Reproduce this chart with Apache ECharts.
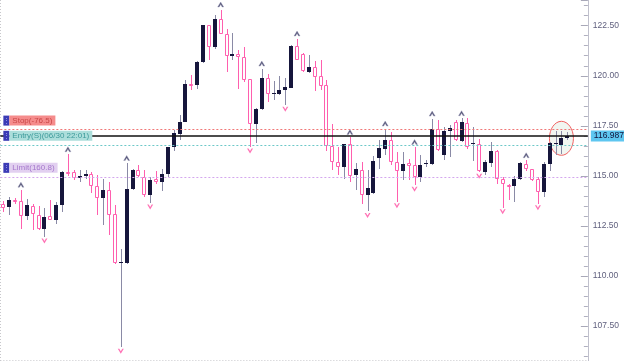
<!DOCTYPE html>
<html>
<head>
<meta charset="utf-8">
<script src="https://cdn.jsdelivr.net/npm/echarts@6/dist/echarts.min.js"></script>
<style>html,body{margin:0;padding:0;background:#fff}#c{width:624px;height:361px}</style>
</head>
<body>
<div id="c"></div>
<script>
// ---- data ----
var opens  = [113.58,113.44,113.78,113.74,113.01,113.51,113.06,112.34,112.98,112.78,
              113.54,115.18,115.19,114.91,114.98,115.11,114.51,113.91,114.31,113.08,
              110.68,110.64,114.34,115.31,114.94,114.03,114.86,114.69,115.11,116.44,
              117.11,117.69,119.61,119.53,120.69,122.53,121.44,122.83,122.11,120.98,
              121.11,120.94,119.83,117.61,118.34,119.89,119.09,119.11,119.31,119.41,
              121.48,121.08,120.18,120.45,119.98,119.53,116.48,115.69,115.44,116.58,
              115.03,115.31,114.03,114.14,115.91,116.33,116.81,115.69,115.24,115.64,
              115.53,114.94,115.58,115.58,117.36,116.03,117.24,117.68,116.73,117.63,
              116.59,116.61,115.19,115.64,116.24,114.83,114.54,114.48,114.83,115.61,
              115.33,114.83,114.19,115.61,116.63,116.53,116.90];
var closes = [113.39,113.81,113.68,113.01,113.53,113.08,112.34,112.94,112.81,113.56,
              115.19,115.08,114.91,114.98,115.11,114.48,113.91,114.31,113.03,110.64,
              110.71,114.33,115.28,114.98,114.03,114.81,114.69,115.11,116.44,117.14,
              117.69,119.61,119.51,120.69,122.53,121.44,122.83,122.11,120.98,121.11,
              120.96,119.81,117.61,118.36,119.89,119.11,119.13,119.31,119.44,121.48,
              120.81,120.23,120.44,119.95,119.50,116.48,115.68,115.44,116.58,114.98,
              115.33,114.06,114.41,115.74,116.41,116.81,115.68,115.23,115.61,115.51,
              114.94,115.56,115.64,117.36,116.28,117.24,117.38,116.78,117.69,116.44,
              116.63,115.24,115.69,116.24,114.86,114.58,114.51,114.86,115.64,115.33,
              114.78,114.19,115.61,116.64,116.66,116.89,116.987];
var lows   = [113.19,113.03,113.61,112.36,112.78,112.28,112.31,111.94,112.78,112.61,
              113.19,114.98,114.81,114.69,114.86,114.14,113.03,112.53,112.06,110.61,
              106.44,110.61,114.28,114.94,113.94,113.64,114.61,114.24,114.94,116.24,
              116.81,117.69,119.28,119.36,120.64,120.78,121.36,122.11,120.19,120.78,
              119.33,119.69,116.44,116.64,118.31,118.69,118.78,119.06,118.53,119.38,
              120.78,120.18,120.13,119.24,119.28,116.23,115.28,115.03,114.86,114.69,
              114.28,113.61,113.22,114.08,115.36,116.03,115.53,113.71,114.78,114.78,
              114.53,114.69,115.43,115.53,116.23,115.81,115.94,116.73,116.69,116.36,
              115.75,115.18,115.03,115.44,114.61,113.41,113.81,113.69,114.78,115.24,
              114.74,113.61,113.94,115.23,116.03,116.11,116.78];
var highs  = [113.73,113.94,113.91,114.31,113.86,113.61,113.49,113.41,113.78,113.69,
              115.23,116.08,115.31,115.28,115.31,115.19,115.03,114.86,114.69,113.53,
              111.36,115.64,115.36,115.53,115.28,114.94,115.24,115.36,116.46,117.28,
              118.03,119.78,120.03,120.73,122.56,122.55,123.03,123.31,122.36,122.16,
              121.28,121.44,119.83,118.41,120.36,120.11,119.73,119.98,119.91,121.53,
              121.86,121.13,121.03,120.73,120.78,119.78,117.61,116.45,116.61,116.94,
              115.66,115.68,115.28,116.01,116.78,117.36,117.19,116.19,116.19,115.86,
              116.44,116.03,115.78,117.86,117.78,117.44,117.53,117.78,117.88,117.88,
              117.43,116.86,115.78,116.69,116.28,114.94,114.61,114.98,115.69,115.78,
              115.36,114.94,115.69,116.69,117.23,117.24,117.19];
var upMarks   = [3, 11, 21, 37, 44, 50, 59, 65, 70, 73, 78, 89];
var downMarks = [7, 20, 25, 42, 48, 62, 67, 70, 81, 85, 91];
var yTicks = {min: 105, max: 123.785, interval: 2.5};
var levels = {stop: 117.315, entry: 116.55, limit: 114.95, last: 116.987, floor: 105.8};
var labels = {stop: 'Stop(-76.5)', entry: 'Entry(S)(06/30 22:01)', limit: 'Limit(160.8)'};
var padCount = 3;
var categories = opens.map(function(_, i){ return 'c' + i; });
for (var k = 0; k < padCount; k++) categories.push('');

// ---- styles ----
var NAVY = '#16163c', PINK = '#ff5fae', WICK = '#8a8aa6';
var FONT = 'Liberation Sans';

var candleData = opens.map(function(o, i){ return [i, o, closes[i], lows[i], highs[i]]; });

function tag(bg, fg) {
  return {
    i: {backgroundColor: '#3b3bb5', width: 6, height: 10, color: '#a8a8f0', fontSize: 7, align: 'center', lineHeight: 10},
    t: {backgroundColor: bg, color: fg, fontSize: 8, fontFamily: FONT, height: 10, lineHeight: 10, padding: [0, 3, 0, 3]}
  };
}

var chart = echarts.init(document.getElementById('c'), null, {renderer: 'canvas'});
var option = {
  animation: false,
  grid: {left: 0.36, right: 36.14, top: 0, bottom: -15, outerBoundsMode: 'none', containLabel: false},
  xAxis: {
    type: 'category', data: categories, boundaryGap: true,
    axisLine: {show: false}, axisTick: {show: false}, axisLabel: {show: false},
    splitLine: {show: true, interval: function(idx){ return idx === 1; },
      lineStyle: {color: '#c8c8cc', type: [1, 2], width: 1}}
  },
  yAxis: {
    type: 'value', position: 'right', scale: true,
    min: yTicks.min, max: yTicks.max, interval: yTicks.interval,
    axisLine: {show: true, lineStyle: {color: '#c0c0cc'}},
    axisTick: {show: true, inside: true, length: 7, lineStyle: {color: '#a8a8b8'}},
    minorTick: {show: true, splitNumber: 5, length: 4, lineStyle: {color: '#b0b0c0'}},
    splitLine: {show: false},
    axisLabel: {color: '#60607e', fontSize: 8.5, fontFamily: FONT, margin: 5,
      showMaxLabel: false, showMinLabel: false,
      formatter: function(v){ return v.toFixed(2); }}
  },
  series: [
    {
      type: 'custom', name: 'price',
      encode: {x: 0, y: [1, 2, 3, 4]},
      data: candleData,
      renderItem: function(params, api){
        var i = api.value(0), o = api.value(1), c = api.value(2), l = api.value(3), h = api.value(4);
        var up = c >= o;
        var pO = api.coord([i, o]), pC = api.coord([i, c]), pL = api.coord([i, l]), pH = api.coord([i, h]);
        var cx = Math.round(pO[0]) + 0.5;
        var top = Math.round(Math.min(pO[1], pC[1])), bot = Math.round(Math.max(pO[1], pC[1]));
        var ch = [{type: 'line', shape: {x1: cx, y1: Math.round(pH[1]), x2: cx, y2: Math.round(pL[1])},
                   style: {stroke: up ? WICK : PINK, lineWidth: 1}}];
        if (up) {
          ch.push({type: 'rect', shape: {x: cx - 2.5, y: top, width: 4, height: Math.max(1, bot - top)},
                   style: {fill: NAVY}});
        } else {
          ch.push({type: 'rect', shape: {x: cx - 2, y: top + 0.5, width: 3, height: Math.max(1, bot - top - 1)},
                   style: {fill: '#fff', stroke: PINK, lineWidth: 1}});
        }
        return {type: 'group', children: ch};
      }
    },
    {
      type: 'scatter', name: 'fractalUp', silent: true,
      data: upMarks.map(function(i){ return [i, highs[i]]; }),
      symbol: 'path://M0,10 L5,0 L10,10 L7.5,10 L5,5 L2.5,10 Z',
      symbolSize: [6, 5], symbolOffset: [0, -5],
      itemStyle: {color: '#2a2a55', borderColor: '#9a9ab8', borderWidth: 0.5},
      markLine: {
        silent: true, symbol: ['none', 'none'],
        data: [
          {yAxis: levels.stop, lineStyle: {color: '#f07878', type: [2, 2], width: 1},
           label: {show: true, position: 'insideStartTop', distance: [3, 4], formatter: '{i|⋮}{t|' + labels.stop + '}', rich: tag('#f58c8c', '#c84646')}},
          {yAxis: levels.entry, lineStyle: {color: '#6cc8c8', type: [2, 2], width: 1},
           label: {show: true, position: 'insideStartTop', distance: [3, 4], formatter: '{i|⋮}{t|' + labels.entry + '}', rich: tag('#acdedb', '#3c9a9a')}},
          {yAxis: levels.limit, lineStyle: {color: '#d4a6ee', type: [2, 2], width: 1},
           label: {show: true, position: 'insideStartTop', distance: [3, 4], formatter: '{i|⋮}{t|' + labels.limit + '}', rich: tag('#e2d0f0', '#a678cc')}},
          {yAxis: levels.floor, lineStyle: {color: '#c8c8cc', type: [1, 2], width: 1}, label: {show: false}}
        ]
      },
      z: 3
    },
    {
      type: 'scatter', name: 'fractalDown', silent: true,
      data: downMarks.map(function(i){ return [i, lows[i]]; }),
      symbol: 'path://M0,0 L5,10 L10,0 L7.5,0 L5,5 L2.5,0 Z',
      symbolSize: [6, 5], symbolOffset: [0, 4],
      itemStyle: {color: '#ff4fa3'},
      markLine: {
        silent: true, symbol: ['none', 'none'],
        data: [
          {yAxis: levels.last, lineStyle: {color: '#111111', type: 'solid', width: 1.6},
           label: {show: true, position: 'end', distance: 3, formatter: levels.last.toFixed(3),
             backgroundColor: '#5ec6f0', color: '#12123a', fontSize: 8.5, fontFamily: FONT, padding: [1, 3, 1, 3]}}
        ]
      },
      z: 4
    }
  ]
};
chart.setOption(option);

// highlight ellipse around the latest candles (anchored to data coordinates)
var lastIdx = opens.length - 1;
var center = chart.convertToPixel({seriesIndex: 0}, [lastIdx - 1, (highs[lastIdx - 1] + lows[lastIdx - 1]) / 2 + 0.2]);
chart.setOption({
  graphic: [{
    type: 'ellipse', silent: true, z: 1,
    shape: {cx: center[0], cy: center[1], rx: 12, ry: 17},
    style: {fill: 'rgba(215,230,215,0.35)', stroke: '#f06060', lineWidth: 1}
  }]
});
</script>
</body>
</html>
